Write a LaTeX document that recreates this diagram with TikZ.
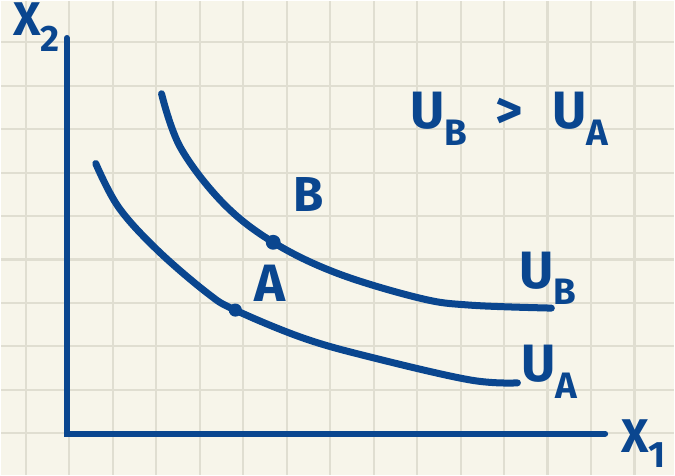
\documentclass[tikz,border=0pt]{standalone}
\usepackage{fontspec}
\setmainfont{Fira Sans}
\usetikzlibrary{positioning}
\definecolor{ink}{HTML}{0A468F}
\definecolor{paper}{HTML}{F7F5EA}
\definecolor{gridline}{HTML}{E0DED1}
\tikzset{
  gridln/.style={line width=1.2pt, gridline},
  axisln/.style={line width=3.4pt, ink, line cap=round},
  icurve/.style={line width=4pt, ink, line cap=round, line join=round},
  dot/.style={circle, fill=ink, inner sep=0pt, minimum size=8.5pt},
  lab/.style={font=\fontsize{30}{32}\selectfont\bfseries, text=ink,
              inner sep=0pt, anchor=base west},
}
% letter with a lowered subscript
\newcommand{\sublab}[2]{#1\raisebox{-.32em}{\fontsize{21}{22}\selectfont #2}}

\begin{document}
\begin{tikzpicture}[x=0.02cm, y=-0.02cm]
  % paper with grid
  \fill[paper] (0,0) rectangle (675,475);
  \foreach \i in {0,...,14}
    \draw[gridln] (25+43.6*\i,0) -- (25+43.6*\i,475);
  \foreach \j in {0,...,9}
    \draw[gridln] (0,41.5+43.55*\j) -- (675,41.5+43.55*\j);
  \useasboundingbox (0,0) rectangle (675,475);
  % axes
  \coordinate (o)    at (66,434);
  \coordinate (yend) at (66,37);
  \coordinate (xend) at (606,434);
  \draw[axisln] (yend) -- (o) -- (xend);
  \node[lab, font=\fontsize{27}{28}\selectfont\bfseries] (x2) at (12,35) {\sublab{X}{2}};
  \node[lab, font=\fontsize{27}{28}\selectfont\bfseries] (x1) at (622,453) {\sublab{X}{1}};
  % indifference curves
  \draw[icurve] plot[smooth, tension=0.6] coordinates {(161,93) (180,147)
    (223,203) (273,242) (337,273) (420,298) (470,305) (552,308)};
  \draw[icurve] plot[smooth, tension=0.6] coordinates {(95,163) (118,207)
    (157,250) (207,293) (235,310) (303,338) (370,357) (470,380) (518,383)};
  % bundles
  \node[dot] (b) at (273,242) {};
  \node[dot, minimum size=7.5pt] (a) at (235,310) {};
  \node[lab, anchor=south west, font=\fontsize{28}{30}\selectfont\bfseries,
        above right=14pt and 8pt of b] (blab) {B};
  \node[lab, anchor=south west, font=\fontsize{30}{32}\selectfont\bfseries,
        above right=2pt and 8pt of a] (alab) {A};
  % curve names
  \node[lab] (ub) at (520,288) {\sublab{U}{B}};
  \node[lab] (ua) at (522,382) {\sublab{U}{A}};
  \node[lab] (rank) at (410,128) {\sublab{U}{B}\hspace{.55em}>\hspace{.55em}\sublab{U}{A}};
\end{tikzpicture}
\end{document}
